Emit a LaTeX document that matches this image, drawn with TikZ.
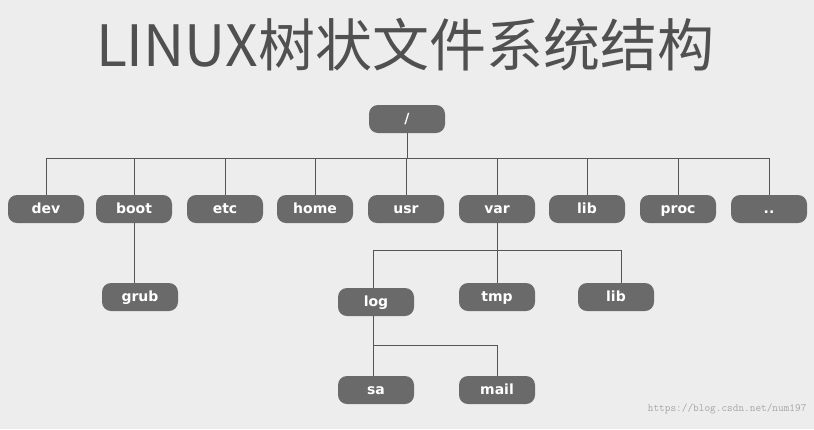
\documentclass[tikz,border=0pt]{standalone}
\usepackage{fontspec}
\setmainfont{Liberation Sans}
\newfontfamily\cjk{Noto Sans CJK SC}
\newfontfamily\boxfont{DejaVu Sans}
\definecolor{bg}{HTML}{EDEDED}
\definecolor{boxc}{HTML}{6A6A6A}
\definecolor{linec}{HTML}{555555}
\definecolor{titlec}{HTML}{505050}
\begin{document}
\begin{tikzpicture}[x=1pt,y=-1pt,
  fbox/.style={fill=boxc,rounded corners=9pt,minimum width=76pt,minimum height=28pt,inner sep=0pt,text height=10pt,text depth=2pt,text=white,font=\boxfont\bfseries\fontsize{14}{14}\selectfont},
  conn/.style={draw=linec,line width=0.8pt}]
\fill[bg] (0,0) rectangle (814,429);
\useasboundingbox (0,0) rectangle (814,429);
\node[text=titlec,font=\cjk\fontsize{57}{57}\selectfont] (title) at (405,45) {LINUX树状文件系统结构};
\node[fbox] (root) at (407,119) {/};
\node[fbox] (dev) at (46,209) {dev};
\node[fbox] (boot) at (134,209) {boot};
\node[fbox] (etc) at (225,209) {etc};
\node[fbox] (home) at (315,209) {home};
\node[fbox] (usr) at (406,209) {usr};
\node[fbox] (var) at (497,209) {var};
\node[fbox] (lib) at (587,209) {lib};
\node[fbox] (proc) at (678,209) {proc};
\node[fbox] (dots) at (769,209) {..};
\node[fbox] (grub) at (140,297) {grub};
\node[fbox] (log) at (376,302) {log};
\node[fbox] (tmp) at (497,297) {tmp};
\node[fbox] (lib2) at (616,297) {lib};
\node[fbox] (sa) at (376,390) {sa};
\node[fbox] (mail) at (497,390) {mail};
\coordinate (h1) at (407,158);
\draw[conn] (root.south) -- (h1);
\draw[conn] (dev.north) |- (dots.north |- h1) -- (dots.north);
\foreach \n in {boot,etc,home,usr,var,lib,proc} \draw[conn] (\n.north) -- (\n.north |- h1);
\draw[conn] (boot.south) -- (boot.south |- grub.north);
\draw[conn] (var.south) -- (tmp.north);
\draw[conn] (373,250) -- (621,250);
\draw[conn] (373,250) -- (373,288);
\draw[conn] (621,250) -- (621,283);
\draw[conn] (373,316) -- (373,376);
\draw[conn] (373,345) -- (497,345) -- (mail.north);
\node[anchor=south east,text=gray!70,font=\ttfamily\fontsize{11}{11}\selectfont] (wm) at (810,418) {https://blog.csdn.net/num197};
\end{tikzpicture}
\end{document}
